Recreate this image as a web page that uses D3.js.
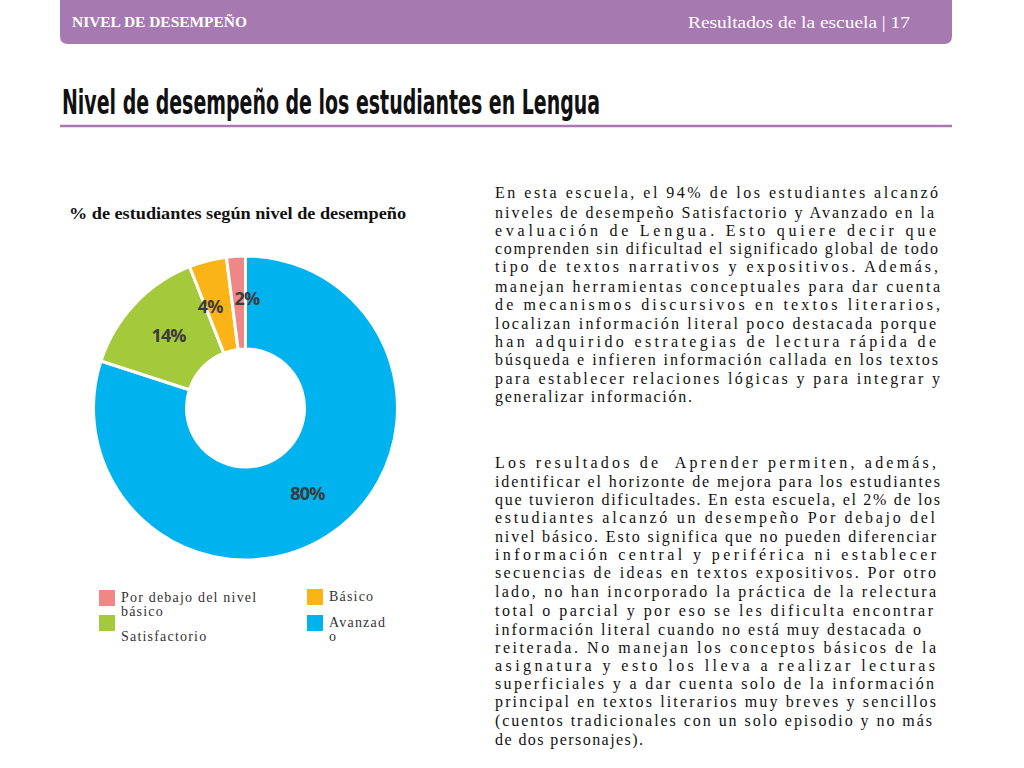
<!DOCTYPE html>
<html>
<head>
<meta charset="utf-8">
<script src="https://cdn.jsdelivr.net/npm/d3@7"></script>
<style>
  body { margin: 0; background: #fff; }
</style>
</head>
<body>
<div class="canvas"></div>
<script>
const svgWidth = 1024;
const svgHeight = 768;

// Chart data
const categories = ['Avanzado', 'Satisfactorio', 'Básico', 'Por debajo del nivel básico'];
const values = [80, 14, 4, 2];
const colors = ['#00b3ee', '#a4c93b', '#fbb418', '#f08787'];

// Legend entries (as drawn in the picture, with their line breaks)
const legendLines = [
    ['Por debajo del  nivel', 'básico'],
    ['', 'Satisfactorio'],
    ['Básico'],
    ['Avanzad', 'o']
];
const legendColors = ['#f08787', '#a4c93b', '#fbb418', '#00b3ee'];

// Body text, one entry per printed line
const para1 = [
    'En esta escuela, el 94% de los estudiantes alcanzó',
    'niveles de desempeño Satisfactorio y Avanzado en la',
    'evaluación de Lengua. Esto quiere decir que',
    'comprenden sin dificultad el significado global de todo',
    'tipo de textos narrativos y expositivos. Además,',
    'manejan herramientas conceptuales para dar cuenta',
    'de mecanismos discursivos en textos literarios,',
    'localizan información literal poco destacada porque',
    'han adquirido estrategias de lectura rápida de',
    'búsqueda e infieren información callada en los textos',
    'para establecer relaciones lógicas y para integrar y',
    'generalizar información.'
];
const para1Base = [198, 218, 236, 254, 272, 292, 310, 329, 347, 365, 384, 402];
const para1End = [938, 934, 936, 938, 938, 940, 940, 936, 936, 938, 940, 692];

const para2 = [
    'Los resultados de  Aprender permiten, además,',
    'identificar el horizonte de mejora para los estudiantes',
    'que tuvieron dificultades. En esta escuela, el 2% de los',
    'estudiantes alcanzó un desempeño Por debajo del',
    'nivel básico. Esto significa que no pueden diferenciar',
    'información central y periférica ni establecer',
    'secuencias de ideas en textos expositivos. Por otro',
    'lado, no han incorporado la práctica de la relectura',
    'total o parcial y por eso se les dificulta encontrar',
    'información literal cuando no está muy destacada o',
    'reiterada. No manejan los conceptos básicos de la',
    'asignatura y esto los lleva a realizar lecturas',
    'superficiales y a dar cuenta solo de la información',
    'principal en textos literarios muy breves y sencillos',
    '(cuentos tradicionales con un solo episodio y no más',
    'de dos personajes).'
];
const para2Base = [468, 487, 505, 523, 542, 560, 578, 597, 616, 635, 653, 671, 689, 707, 726, 745];
const para2End = [936, 940, 940, 935, 936, 936, 936, 936, 933, 921, 936, 935, 934, 936, 932, 643];

const purple = '#a779b1';

const svg = d3.select('.canvas')
    .append('svg')
    .attr('width', svgWidth)
    .attr('height', svgHeight);

// Header band
svg.append('path')
    .attr('d', `M60,0 H952 V36 Q952,44 944,44 H68 Q60,44 60,36 Z`)
    .attr('fill', purple);

svg.append('text')
    .attr('x', 72).attr('y', 27)
    .attr('font-family', 'Liberation Serif, serif')
    .attr('font-weight', 'bold')
    .attr('font-size', 14)
    .attr('textLength', 175)
    .attr('lengthAdjust', 'spacingAndGlyphs')
    .attr('fill', '#fff')
    .text('NIVEL DE DESEMPEÑO');

svg.append('text')
    .attr('x', 688).attr('y', 28)
    .attr('font-family', 'Liberation Serif, serif')
    .attr('font-size', 16)
    .attr('textLength', 222)
    .attr('lengthAdjust', 'spacingAndGlyphs')
    .attr('fill', '#fff')
    .text('Resultados  de la escuela  |   17');

// Page title and rule
svg.append('text')
    .attr('x', 62).attr('y', 114)
    .attr('font-family', 'Liberation Sans Narrow, DejaVu Sans Condensed, sans-serif')
    .attr('font-weight', 'bold')
    .attr('font-size', 33)
    .attr('textLength', 538)
    .attr('lengthAdjust', 'spacingAndGlyphs')
    .attr('fill', '#111')
    .text('Nivel de desempeño de los estudiantes en Lengua');

svg.append('line')
    .attr('x1', 60).attr('x2', 952)
    .attr('y1', 126).attr('y2', 126)
    .attr('stroke', purple)
    .attr('stroke-width', 2.5);

// Chart subtitle
svg.append('text')
    .attr('x', 69).attr('y', 219)
    .attr('font-family', 'Liberation Serif, serif')
    .attr('font-weight', 'bold')
    .attr('font-size', 16)
    .attr('textLength', 337)
    .attr('lengthAdjust', 'spacingAndGlyphs')
    .attr('fill', '#111')
    .text('% de estudiantes según nivel de desempeño');

// Donut
const cx = 245.5, cy = 408;
const outerR = 152, innerR = 59;

const pie = d3.pie().sort(null).value(d => d)(values);
const arc = d3.arc().innerRadius(innerR).outerRadius(outerR);

const donut = svg.append('g')
    .attr('transform', `translate(${cx}, ${cy})`);

donut.selectAll('path')
    .data(pie)
    .enter()
    .append('path')
    .attr('d', arc)
    .attr('fill', (d, i) => colors[i])
    .attr('stroke', '#fff')
    .attr('stroke-width', 3);

// small slices: nudge labels apart so they don't collide
const labelNudge = [[0, 0], [0, 0], [-9, 1], [8, -4]];

donut.selectAll('.pie-label')
    .data(pie)
    .enter()
    .append('text')
    .attr('class', 'pie-label')
    .attr('transform', d => `translate(${arc.centroid(d)})`)
    .attr('x', (d, i) => labelNudge[i][0])
    .attr('y', (d, i) => labelNudge[i][1])
    .attr('dy', '0.35em')
    .attr('text-anchor', 'middle')
    .attr('font-family', 'Open Sans, sans-serif')
    .attr('font-weight', 'bold')
    .attr('font-size', 18)
    .attr('letter-spacing', -0.8)
    .attr('fill', '#3b3b3b')
    .text(d => d.value + '%');

// Legend
const legendPos = [[99, 590], [99, 615], [307, 589], [307, 615]];
const legend = svg.append('g');

legendLines.forEach((lines, i) => {
    const [lx, ly] = legendPos[i];
    legend.append('rect')
        .attr('x', lx).attr('y', ly)
        .attr('width', 16).attr('height', 16)
        .attr('fill', legendColors[i]);
    lines.forEach((t, j) => {
        if (!t) return;
        legend.append('text')
            .attr('x', lx + 22)
            .attr('y', ly + 12 + j * 14)
            .attr('font-family', 'Liberation Serif, serif')
            .attr('font-size', 14)
            .attr('letter-spacing', 1.2)
            .attr('fill', '#333')
            .text(t);
    });
});

// Body text, justified line by line
function drawPara(lines, bases, ends) {
    svg.append('g')
        .selectAll('text')
        .data(lines)
        .enter()
        .append('text')
        .attr('x', 495)
        .attr('y', (d, i) => bases[i])
        .attr('font-family', 'Liberation Serif, serif')
        .attr('font-size', 16)
        .attr('fill', '#111')
        .attr('textLength', (d, i) => ends[i] - 495)
        .attr('lengthAdjust', 'spacing')
        .attr('xml:space', 'preserve')
        .text(d => d);
}
drawPara(para1, para1Base, para1End);
drawPara(para2, para2Base, para2End);
</script>
</body>
</html>
